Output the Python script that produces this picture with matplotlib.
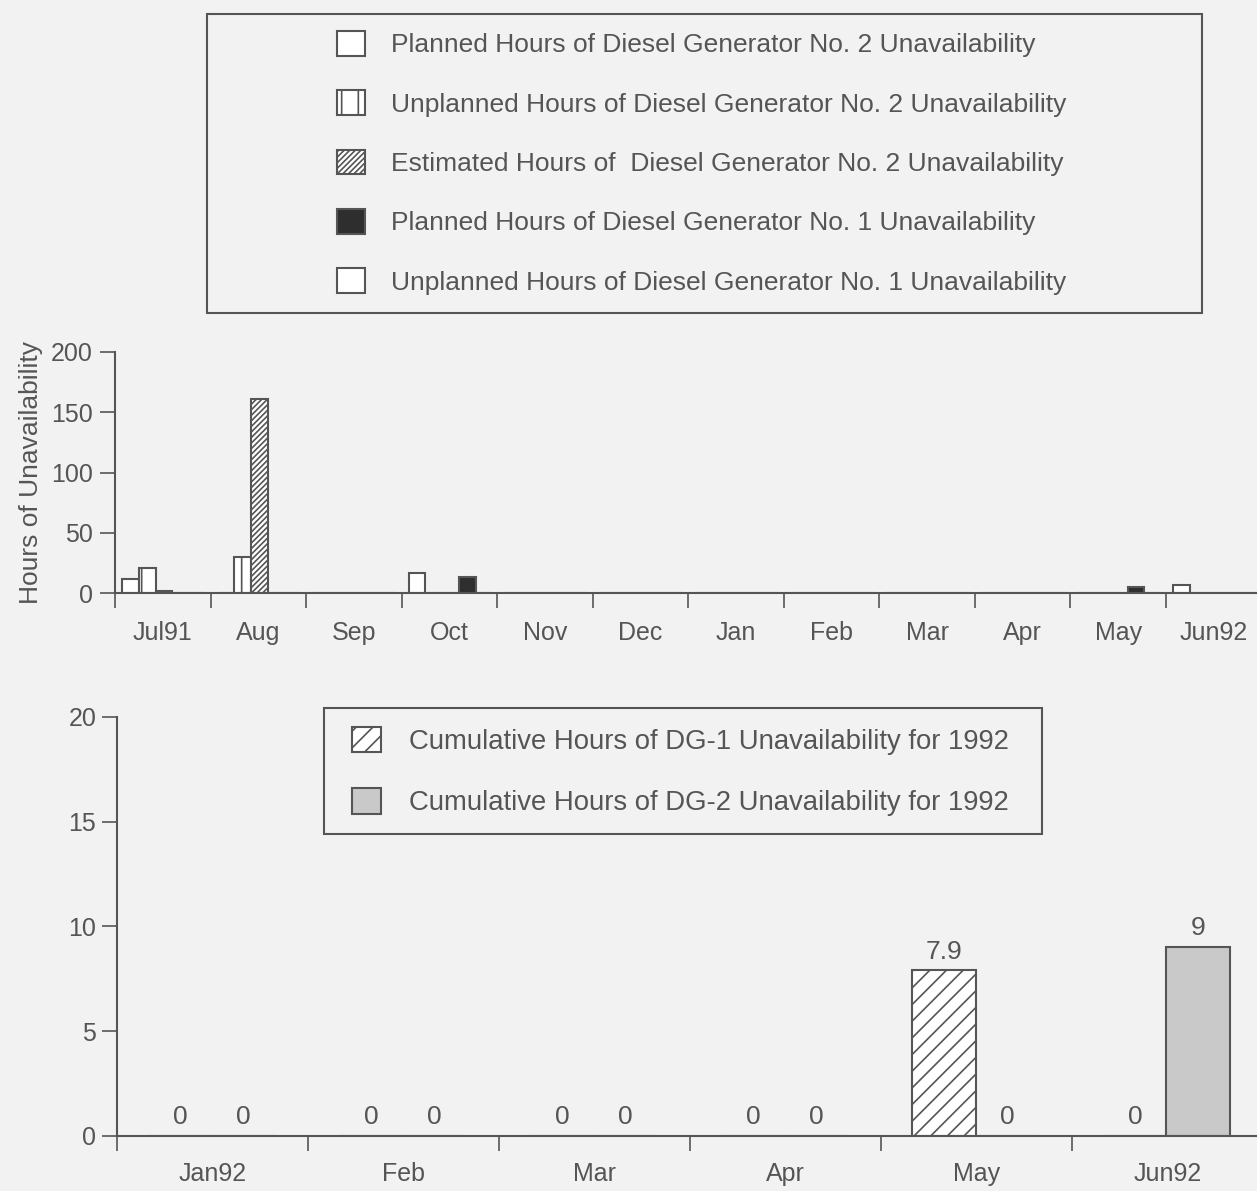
import numpy as np
import matplotlib
matplotlib.use("Agg")
import matplotlib.pyplot as plt
from matplotlib.patches import Rectangle

# top chart: monthly hours, Jul91 - Jun92
months_top = ['Jul91', 'Aug', 'Sep', 'Oct', 'Nov', 'Dec', 'Jan', 'Feb', 'Mar', 'Apr', 'May', 'Jun92']
planned_dg2 = [12, 0, 0, 17, 0, 0, 0, 0, 0, 0, 0, 7]
unplanned_dg2 = [21, 30, 0, 0, 0, 0, 0, 0, 0, 0, 0, 0]
estimated_dg2 = [2, 161, 0, 0, 0, 0, 0, 0, 0, 0, 0, 0]
planned_dg1 = [0, 0, 0, 13, 0, 0, 0, 0, 0, 0, 5, 0]
unplanned_dg1 = [0, 0, 0, 0, 0, 0, 0, 0, 0, 0, 0, 0]

top_labels = ['Planned Hours of Diesel Generator No. 2 Unavailability',
              'Unplanned Hours of Diesel Generator No. 2 Unavailability',
              'Estimated Hours of  Diesel Generator No. 2 Unavailability',
              'Planned Hours of Diesel Generator No. 1 Unavailability',
              'Unplanned Hours of Diesel Generator No. 1 Unavailability']

# bottom chart: cumulative hours for 1992
months_bot = ['Jan92', 'Feb', 'Mar', 'Apr', 'May', 'Jun92']
cum_dg1 = [0, 0, 0, 0, 7.9, 0]
cum_dg2 = [0, 0, 0, 0, 0, 9]
bot_labels = ['Cumulative Hours of DG-1 Unavailability for 1992',
              'Cumulative Hours of DG-2 Unavailability for 1992']

bg = '#f2f2f2'
ink = '#555555'
txt = '#555555'
plt.rcParams['font.family'] = ['Liberation Sans', 'DejaVu Sans']
plt.rcParams['hatch.color'] = '#666666'
plt.rcParams['hatch.linewidth'] = 1.2

fig = plt.figure(figsize=(12.57, 11.91), dpi=100, facecolor=bg)

# ---------- top chart ----------
ax1 = fig.add_axes([0.0915, 0.502, 0.912, 0.2025])
ax1.set_facecolor(bg)
x = np.arange(len(months_top))
w = 0.175
off = 0.075
series = [
    (planned_dg2, dict(facecolor='white', hatch=None)),
    (unplanned_dg2, dict(facecolor='white', hatch='|')),
    (estimated_dg2, dict(facecolor='white', hatch='//////')),
    (planned_dg1, dict(facecolor='#2e2e2e', hatch=None)),
    (unplanned_dg1, dict(facecolor='white', hatch=None)),
]
handles = []
for i, (vals, style) in enumerate(series):
    h = ax1.bar(x + off + i * w, vals, width=w, align='edge', edgecolor=ink,
                linewidth=1.5, **style)
    handles.append(h)

ax1.set_xlim(0, 12)
ax1.set_ylim(0, 200)
ax1.set_yticks([0, 50, 100, 150, 200])
ax1.set_xticks(np.arange(0, 13))
ax1.set_xticklabels([])
ax1.set_xticks(x + 0.5, minor=True)
ax1.set_xticklabels(months_top, minor=True)
ax1.tick_params(axis='x', which='major', length=11, width=1.2, color=ink, direction='out')
ax1.tick_params(axis='x', which='minor', length=0, pad=20, labelsize=18, labelcolor=txt)
ax1.tick_params(axis='y', length=11, width=1.2, color=ink, pad=5, labelsize=18, labelcolor=txt)
for s in ['top', 'right']:
    ax1.spines[s].set_visible(False)
for s in ['left', 'bottom']:
    ax1.spines[s].set_color(ink)
    ax1.spines[s].set_linewidth(1.5)
ax1.set_ylabel('Hours of Unavailability', fontsize=19, color=txt, labelpad=6)

fig.legend(handles, top_labels, loc='upper left', bbox_to_anchor=(0.268, 0.9740),
           frameon=False, fontsize=19, handlelength=1.06, handleheight=1.06,
           handletextpad=1.0, labelspacing=1.25, borderpad=0, borderaxespad=0,
           labelcolor=txt)
fig.patches.append(Rectangle((0.1647, 0.7372), 0.7916, 0.2511, transform=fig.transFigure,
                             fill=False, edgecolor=ink, linewidth=1.5))

# ---------- bottom chart ----------
ax2 = fig.add_axes([0.0931, 0.0462, 0.912, 0.3518])
ax2.set_facecolor(bg)
xb = np.arange(len(months_bot))
bw = 0.335
b1 = ax2.bar(xb + 0.33, cum_dg1, width=bw, facecolor='white', hatch='//',
             edgecolor=ink, linewidth=1.5)
b2 = ax2.bar(xb + 0.66, cum_dg2, width=bw, facecolor='#c9c9c9',
             edgecolor=ink, linewidth=1.5)
for bars, vals in [(b1, cum_dg1), (b2, cum_dg2)]:
    for rect, v in zip(bars, vals):
        lab = '0' if v == 0 else ('%g' % v)
        ax2.annotate(lab, (rect.get_x() + rect.get_width() / 2, v),
                     xytext=(0, 5), textcoords='offset points', ha='center',
                     va='bottom', fontsize=19, color=txt)

ax2.set_xlim(0, 6)
ax2.set_ylim(0, 20)
ax2.set_yticks([0, 5, 10, 15, 20])
ax2.set_xticks(np.arange(0, 7))
ax2.set_xticklabels([])
ax2.set_xticks(xb + 0.5, minor=True)
ax2.set_xticklabels(months_bot, minor=True)
ax2.tick_params(axis='x', which='major', length=11, width=1.2, color=ink, direction='out')
ax2.tick_params(axis='x', which='minor', length=0, pad=19, labelsize=18, labelcolor=txt)
ax2.tick_params(axis='y', length=11, width=1.2, color=ink, pad=4, labelsize=18, labelcolor=txt)
for s in ['top', 'right']:
    ax2.spines[s].set_visible(False)
for s in ['left', 'bottom']:
    ax2.spines[s].set_color(ink)
    ax2.spines[s].set_linewidth(1.5)

fig.legend([b1, b2], bot_labels, loc='upper left', bbox_to_anchor=(0.280, 0.3900),
           frameon=False, fontsize=19.8, handlelength=1.06, handleheight=1.06,
           handletextpad=1.0, labelspacing=1.22, borderpad=0, borderaxespad=0,
           labelcolor=txt)
fig.patches.append(Rectangle((0.2578, 0.2997), 0.5712, 0.1058, transform=fig.transFigure,
                             fill=False, edgecolor=ink, linewidth=1.5))

fig.savefig('out.png', dpi=100, facecolor=bg)
